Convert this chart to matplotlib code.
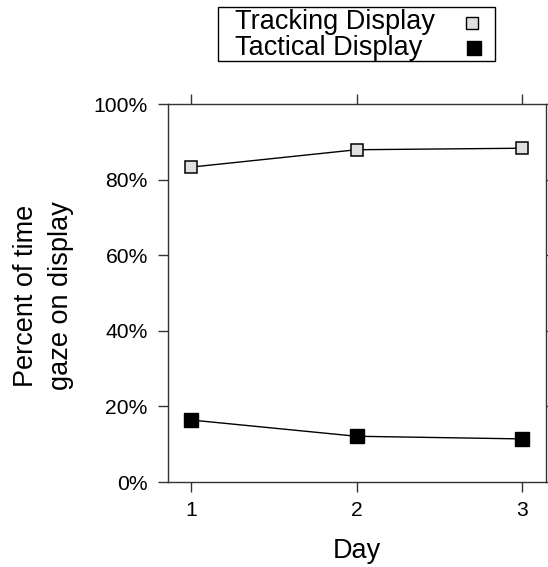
import matplotlib
matplotlib.use("Agg")
import matplotlib.pyplot as plt
from matplotlib.ticker import FuncFormatter

plt.rcParams["font.family"] = "Liberation Sans"

days = [1, 2, 3]
tracking = [83.3, 87.9, 88.3]
tactical = [16.4, 12.1, 11.4]
series_names = ["Tracking Display", "Tactical Display"]
yticks = [0, 20, 40, 60, 80, 100]

W, H = 548, 567
fig = plt.figure(figsize=(W / 100, H / 100), dpi=100)
# panel box in pixels: left 168, right 546, top 104, bottom 482
ax = fig.add_axes([168 / W, 1 - 482 / H, (546 - 168) / W, (482 - 104) / H])

ax.plot(days, tracking, color="black", lw=1.0, marker="s", ms=9,
        mfc="#e0e0e0", mec="black", mew=1.1)
ax.plot(days, tactical, color="black", lw=1.0, marker="s", ms=10.5,
        mfc="black", mec="black")

ax.set_xlim(0.861, 3.145)
ax.set_ylim(0, 100)
ax.set_xticks(days)
ax.set_yticks(yticks)
ax.yaxis.set_major_formatter(FuncFormatter(lambda v, p: "%d%%" % v))
ax.tick_params(direction="out", length=7.5, width=1.0, labelsize=15.2,
               top=True, right=True, labeltop=False, labelright=False,
               color="#333333")
ax.tick_params(axis="x", pad=6.5)
ax.tick_params(axis="y", pad=7)
for s in ax.spines.values():
    s.set_color("#333333")
    s.set_linewidth(1.0)

fig.text(357 / W, 1 - 558 / H, "Day", fontsize=19.5, ha="center",
         va="baseline")
fig.text(44 / W, 1 - 296 / H, "Percent of time\ngaze on display",
         fontsize=19.5, rotation=90, ha="center", va="center",
         multialignment="center", linespacing=1.45)

# key box above the panel
kx0, kx1, ky0, ky1 = 218, 495, 7, 61
fig.patches.append(plt.Rectangle((kx0 / W, 1 - ky1 / H), (kx1 - kx0) / W,
                                 (ky1 - ky0) / H, transform=fig.transFigure,
                                 fill=False, ec="black", lw=1.0))
fig.text(235 / W, 1 - 29 / H, series_names[0], fontsize=19.5, va="baseline")
fig.text(235 / W, 1 - 55 / H, series_names[1], fontsize=19.5, va="baseline")
fig.add_artist(plt.Line2D([472 / W], [1 - 23 / H], marker="s", ms=8.5,
                          mfc="#e0e0e0", mec="black", mew=1.0,
                          transform=fig.transFigure))
fig.add_artist(plt.Line2D([474 / W], [1 - 47.5 / H], marker="s", ms=10,
                          mfc="black", mec="black",
                          transform=fig.transFigure))

fig.savefig("out.png", dpi=100)
